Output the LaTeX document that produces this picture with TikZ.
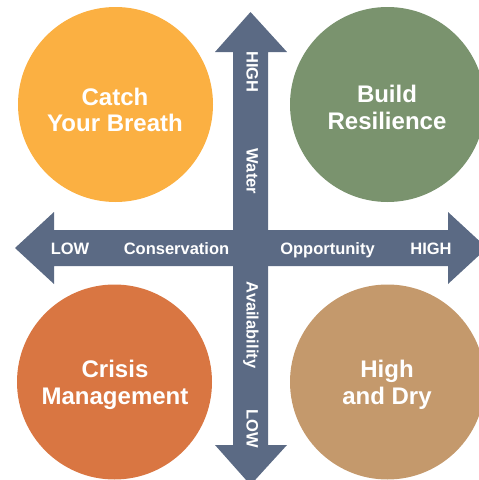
\documentclass[tikz,border=0pt]{standalone}
\usepackage{fontspec}
\setmainfont{Liberation Sans}
\definecolor{arrowc}{HTML}{5B6A84}
\definecolor{orangec}{HTML}{FBB042}
\definecolor{greenc}{HTML}{7A936E}
\definecolor{redc}{HTML}{D97642}
\definecolor{tanc}{HTML}{C4996C}
\begin{document}
\begin{tikzpicture}[x=1pt,y=-1pt,
  quad/.style={circle,minimum size=195pt,inner sep=0pt},
  qtext/.style={text=white,font=\bfseries\fontsize{24}{26.5}\selectfont,align=center,inner sep=0pt},
  lab/.style={text=white,font=\bfseries\fontsize{16.5}{18}\selectfont,inner sep=0pt,anchor=base},
  vlab/.style={lab,rotate=-90}]
\useasboundingbox (0,0) rectangle (479,480);
\clip (0,0) rectangle (479,480);
% quadrant circles
\node[quad,fill=orangec] (catch) at (115.5,104.5) {};
\node[quad,fill=greenc] (build) at (387.5,104.5) {};
\node[quad,fill=redc] (crisis) at (114.5,382) {};
\node[quad,fill=tanc] (dry) at (387.5,382) {};
\node[qtext] (catchT) at (115,110) {Catch\\Your Breath};
\node[qtext] (buildT) at (387,107.5) {Build\\Resilience};
\node[qtext] (crisisT) at (115,385) {Crisis\\Management};
\node[qtext] (dryT) at (387,385) {High\\and Dry};
% arrows
\fill[arrowc] (15,248) -- (54,212) -- (54,230) -- (448,230) -- (448,212) -- (487,248)
  -- (448,284) -- (448,266) -- (54,266) -- (54,284) -- cycle;
\fill[arrowc] (250.5,12) -- (287,52) -- (268,52) -- (268,445) -- (287,445) -- (250.5,485)
  -- (215,445) -- (233,445) -- (233,52) -- (215,52) -- cycle;
% horizontal labels
\node[lab] (lowH) at (70,254) {LOW};
\node[lab] (cons) at (176.5,254) {Conservation};
\node[lab] (opp) at (327.5,254) {Opportunity};
\node[lab] (highH) at (431,254) {HIGH};
% vertical labels
\node[vlab] (highV) at (246.5,72) {HIGH};
\node[vlab] (water) at (246.5,171.5) {Water};
\node[vlab] (avail) at (246.5,325) {Availability};
\node[vlab] (lowV) at (246.5,429) {LOW};
\end{tikzpicture}
\end{document}
